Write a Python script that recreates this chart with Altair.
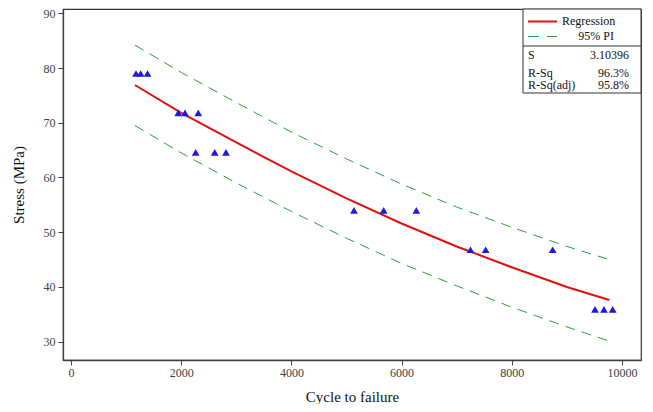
import altair as alt
import pandas as pd

# Observed data (triangles)
cycles = [1180, 1265, 1390, 1947, 2069, 2310, 2263, 2608, 2813,
          5136, 5675, 6267, 7250, 7526, 8742, 9510, 9673, 9831]
stress = [79, 79, 79, 71.8, 71.8, 71.8, 64.6, 64.6, 64.6,
          54, 54, 54, 46.8, 46.8, 46.8, 35.9, 35.9, 35.9]

# Regression line and 95% prediction interval
fit_cycles = [1160, 2000, 3000, 4000, 5000, 6000, 7000, 8000, 9000, 9770]
fit_stress = [76.9, 71.8, 66.4, 61.1, 56.2, 51.6, 47.4, 43.6, 40.0, 37.6]
pi_upper = [84.2, 79.2, 73.7, 68.3, 63.4, 58.8, 54.6, 50.9, 47.4, 45.0]
pi_lower = [69.5, 64.5, 59.0, 53.8, 48.9, 44.3, 40.2, 36.3, 32.7, 30.1]

x_ticks = [0, 2000, 4000, 6000, 8000, 10000]
y_ticks = [30, 40, 50, 60, 70, 80, 90]

pts = pd.DataFrame({"cycles": cycles, "stress": stress})
fit = pd.DataFrame({"cycles": fit_cycles, "fit": fit_stress,
                    "upper": pi_upper, "lower": pi_lower})

FONT = "Liberation Serif"
AX = "#404040"

xscale = alt.Scale(domain=[-145, 10345], nice=False, zero=False)
yscale = alt.Scale(domain=[26.65, 90.79], nice=False, zero=False)

xaxis = alt.Axis(values=x_ticks, format="d", grid=False, title="Cycle to failure",
                 labelPadding=2, tickSize=5, titlePadding=11)
yaxis = alt.Axis(values=y_ticks, grid=False, title="Stress (MPa)",
                 labelPadding=3, tickSize=5, titlePadding=17)

base = alt.Chart(fit)
X = alt.X("cycles:Q", scale=xscale, axis=xaxis)

upper = base.mark_line(color="#2e9e3e", strokeWidth=1, strokeDash=[10, 7]).encode(
    x=X, y=alt.Y("upper:Q", scale=yscale, axis=yaxis),
)
lower = base.mark_line(color="#2e9e3e", strokeWidth=1, strokeDash=[10, 7]).encode(
    x=X, y=alt.Y("lower:Q", scale=yscale, axis=yaxis),
)
reg = base.mark_line(color="#e01010", strokeWidth=2).encode(
    x=X, y=alt.Y("fit:Q", scale=yscale, axis=yaxis),
)
points = alt.Chart(pts).mark_point(shape="triangle-up", filled=True, size=60,
                                   color="#1a1ae0", opacity=1).encode(
    x=X, y=alt.Y("stress:Q", scale=yscale, axis=yaxis),
)

one = pd.DataFrame({"k": [0]})
L = 460
R = 578

box = alt.Chart(one).mark_rect(fill="white", stroke="#333", strokeWidth=1).encode(
    x=alt.value(L), x2=alt.value(R), y=alt.value(0), y2=alt.value(84))
divider = alt.Chart(one).mark_rule(color="#333", strokeWidth=1).encode(
    x=alt.value(L), x2=alt.value(R), y=alt.value(37))
leg_red = alt.Chart(one).mark_rule(color="#e01010", strokeWidth=2).encode(
    x=alt.value(L + 5), x2=alt.value(L + 34), y=alt.value(12.5))
leg_green = alt.Chart(one).mark_rule(color="#2e9e3e", strokeWidth=1, strokeDash=[11, 8]).encode(
    x=alt.value(L + 5), x2=alt.value(L + 34), y=alt.value(27.5))


def txt(s, x, y, align="left"):
    return alt.Chart(one).mark_text(font=FONT, fontSize=12, color="#111",
                                    align=align, baseline="middle").encode(
        x=alt.value(x), y=alt.value(y), text=alt.value(s))


texts = [
    txt("Regression", L + 39, 11.8),
    txt("95% PI", L + 91, 26.8, "right"),
    txt("S", L + 5, 45.5),
    txt("3.10396", L + 106, 45.5, "right"),
    txt("R-Sq", L + 5, 63.5),
    txt("96.3%", L + 106, 63.5, "right"),
    txt("R-Sq(adj)", L + 5, 76),
    txt("95.8%", L + 106, 76, "right"),
]

chart = alt.layer(upper, lower, reg, points, box, divider, leg_red, leg_green, *texts).properties(
    width=578, height=351,
    autosize=alt.AutoSizeParams(type="none"),
    padding={"left": 55, "top": 1, "right": 4, "bottom": 44},
).configure_view(
    stroke="#333", strokeWidth=1.2
).configure_axis(
    labelFont=FONT, labelFontSize=12, labelColor=AX,
    titleFont=FONT, titleFontSize=15, titleFontWeight="normal", titleColor="#111",
    tickColor=AX, domainColor=AX, domainWidth=1.3, tickWidth=1,
)

chart.save("out.html", embed_options={"renderer": "svg", "actions": False})
